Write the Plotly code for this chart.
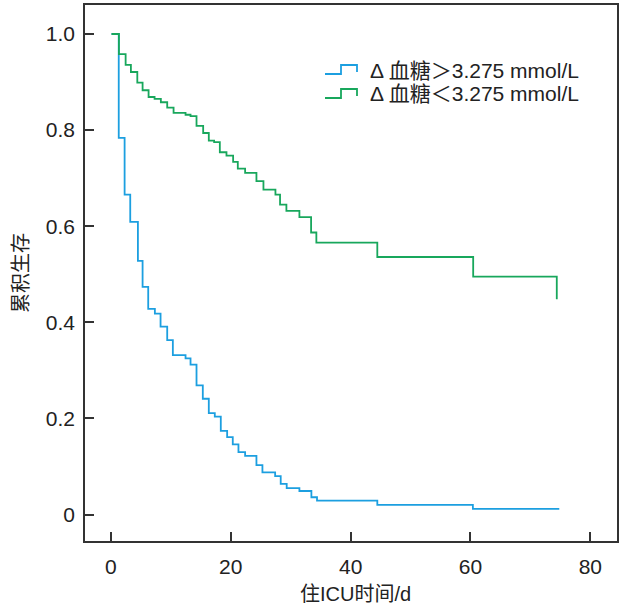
import plotly.graph_objects as go

# ---- data ----
blue_time = [0.1, 1.3, 2.28, 3.22, 4.5, 5.28, 6.22, 7.33, 8.28, 9.39, 10.33, 12.45, 13.28,
             14.28, 15.33, 16.33, 17.33, 18.33, 19.39, 20.33, 21.28, 22.39, 24.28, 25.28,
             27.4, 28.33, 29.33, 31.45, 33.45, 34.39, 44.45, 60.4, 74.67]
blue_surv = [1.0, 0.784, 0.666, 0.609, 0.528, 0.474, 0.428, 0.418, 0.391, 0.363, 0.332,
             0.325, 0.312, 0.269, 0.241, 0.211, 0.204, 0.174, 0.161, 0.146, 0.130, 0.122,
             0.103, 0.088, 0.080, 0.064, 0.055, 0.049, 0.036, 0.029, 0.020, 0.012, 0.010]

green_time = [0.1, 1.33, 2.45, 3.33, 4.4, 5.28, 6.28, 7.28, 8.33, 9.39, 10.45, 12.45, 13.28,
              14.28, 15.39, 16.33, 17.22, 18.17, 19.28, 20.39, 21.17, 22.39, 24.28, 25.45,
              27.45, 28.22, 29.28, 31.45, 33.4, 34.28, 44.45, 60.45, 74.4]
green_surv = [1.0, 0.958, 0.936, 0.921, 0.899, 0.883, 0.869, 0.865, 0.858, 0.847, 0.836,
              0.832, 0.829, 0.809, 0.794, 0.778, 0.775, 0.754, 0.747, 0.734, 0.720, 0.711,
              0.694, 0.676, 0.666, 0.645, 0.632, 0.619, 0.587, 0.566, 0.536, 0.495, 0.448]

series_names = ["Δ 血糖＞3.275 mmol/L", "Δ 血糖＜3.275 mmol/L"]
x_ticks = [0, 20, 40, 60, 80]
x_ticktext = ["0", "20", "40", "60", "80"]
y_ticks = [0, 0.2, 0.4, 0.6, 0.8, 1.0]
y_ticktext = ["0", "0.2", "0.4", "0.6", "0.8", "1.0"]
x_title = "住ICU时间/d"
y_title = "累积生存"

BLUE = "#1c9fe0"
GREEN = "#18a75c"
AX = "#333333"
FONT = "Liberation Sans, Arial, Noto Sans CJK SC, sans-serif"

W, H = 620, 607
ML, MR, MT, MB = 85, 3, 5, 66
LW = 1.8

fig = go.Figure()
fig.add_trace(go.Scatter(x=blue_time, y=blue_surv, mode="lines", line_shape="hv",
                         line=dict(color=BLUE, width=LW), name=series_names[0],
                         showlegend=False))
fig.add_trace(go.Scatter(x=green_time, y=green_surv, mode="lines", line_shape="hv",
                         line=dict(color=GREEN, width=LW), name=series_names[1],
                         showlegend=False))

# pixel -> paper conversion for legend and titles
pw, ph = W - ML - MR, H - MT - MB
def px(x):
    return (x - ML) / pw
def py(y):
    return (H - MB - y) / ph

# custom legend with step-shaped icons
for name, col, yc in [(series_names[0], BLUE, 70), (series_names[1], GREEN, 94)]:
    low, high = yc + 4, yc - 5
    path = (f"M {px(325)},{py(low)} L {px(341)},{py(low)} L {px(341)},{py(high)} "
            f"L {px(357)},{py(high)} L {px(357)},{py(low - 2)}")
    fig.add_shape(type="path", path=path, xref="paper", yref="paper",
                  line=dict(color=col, width=LW))
    fig.add_annotation(x=px(368), y=py(yc), xref="paper", yref="paper", text=name,
                       showarrow=False, xanchor="left", yanchor="middle",
                       font=dict(family=FONT, size=21, color="#222222"))

# axis titles
fig.add_annotation(x=px(355), y=py(594), xref="paper", yref="paper", text=x_title,
                   showarrow=False, xanchor="center", yanchor="middle",
                   font=dict(family=FONT, size=20, color="#222222"))
fig.add_annotation(x=px(21), y=py(273), xref="paper", yref="paper", text=y_title,
                   showarrow=False, xanchor="center", yanchor="middle", textangle=-90,
                   font=dict(family=FONT, size=20, color="#222222"))

fig.update_layout(
    width=W, height=H,
    margin=dict(l=ML, r=MR, t=MT, b=MB, autoexpand=False),
    plot_bgcolor="white", paper_bgcolor="white",
    font=dict(family=FONT, size=21, color="#222222"),
    xaxis=dict(range=[-4.33, 84.45], tickvals=x_ticks, ticktext=x_ticktext,
               ticks="inside", ticklen=9, tickwidth=1.5, tickcolor=AX,
               showline=True, linecolor=AX, linewidth=1.5, mirror=True,
               showgrid=False, zeroline=False, ticklabelstandoff=6, automargin=False),
    yaxis=dict(range=[-0.055, 1.0604], tickvals=y_ticks, ticktext=y_ticktext,
               ticks="inside", ticklen=9, tickwidth=1.5, tickcolor=AX,
               showline=True, linecolor=AX, linewidth=1.5, mirror=True,
               showgrid=False, zeroline=False, ticklabelstandoff=4, automargin=False),
)

fig.write_html("out.html", config={"displayModeBar": False},
               post_script="document.body.style.margin='0';document.body.style.overflow='hidden';")
